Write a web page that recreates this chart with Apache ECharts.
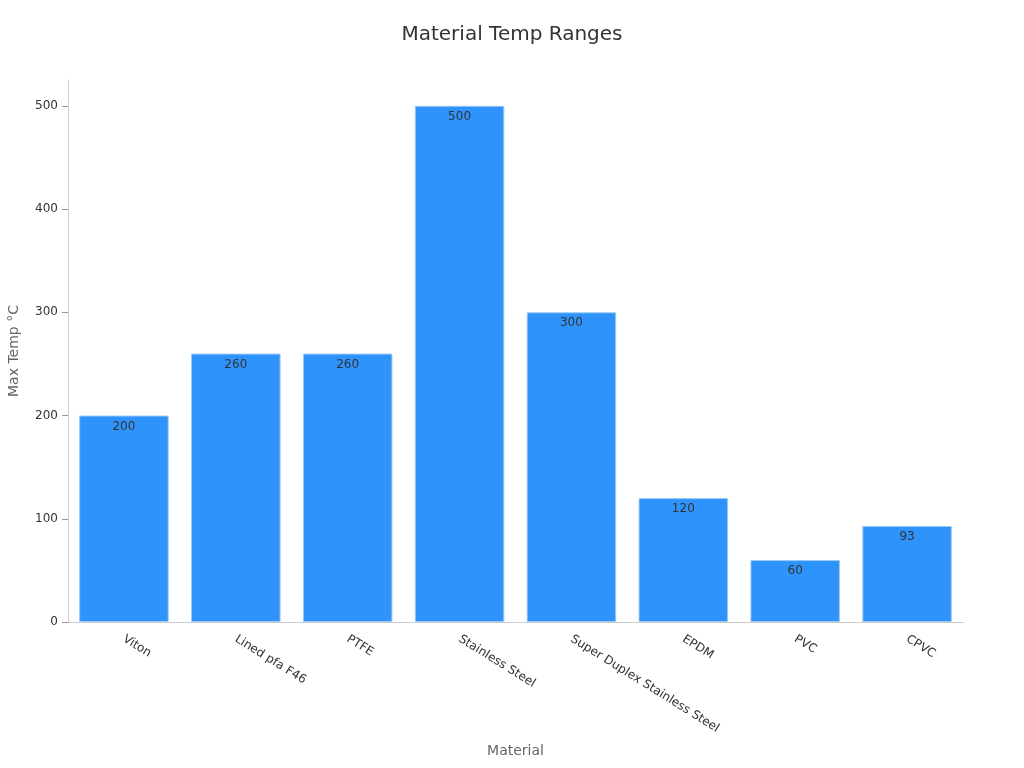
<!DOCTYPE html>
<html><head><meta charset="utf-8">
<script src="https://cdn.jsdelivr.net/npm/echarts@6/dist/echarts.min.js"></script>
<style>html,body{margin:0;padding:0;background:#fff}#c{width:1024px;height:768px}</style>
</head><body><div id="c"></div>
<script>
const categories = ["Viton","Lined pfa F46","PTFE","Stainless Steel","Super Duplex Stainless Steel","EPDM","PVC","CPVC"];
const maxTemps = [200,260,260,500,300,120,60,93];
const chart = echarts.init(document.getElementById('c'));
chart.setOption({
  animation:false,
  textStyle:{fontFamily:'DejaVu Sans'},
  title:{text:'Material Temp Ranges',left:'center',top:20,textStyle:{fontSize:20,fontWeight:'normal',color:'#333',fontFamily:'DejaVu Sans'}},
  grid:{left:68,right:61,top:80,bottom:146,containLabel:false,outerBoundsMode:'none'},
  xAxis:{type:'category',data:categories,name:'Material',nameLocation:'middle',nameGap:122,
    nameTextStyle:{fontSize:14,color:'#666'},
    axisLine:{lineStyle:{color:'#ccc'}},axisTick:{alignWithLabel:true,length:6,lineStyle:{color:'#999'}},
    axisLabel:{rotate:-32,fontSize:12,color:'#333',interval:0,margin:16}},
  yAxis:{type:'value',min:0,max:525,interval:100,name:'Max Temp °C',nameLocation:'middle',nameGap:47,
    nameTextStyle:{fontSize:14,color:'#666'},
    axisLine:{show:true,lineStyle:{color:'#ccc'}},axisTick:{show:true,length:6,lineStyle:{color:'#999'}},
    splitLine:{show:false},
    axisLabel:{fontSize:12,color:'#333',showMaxLabel:false,margin:10}},
  series:[{type:'bar',data:maxTemps,barCategoryGap:'20%',
    itemStyle:{color:'#2E93FA',borderColor:'#9CC9F5',borderWidth:1},
    label:{show:true,position:'insideTop',color:'#333',fontSize:12}}]
});
</script></body></html>
